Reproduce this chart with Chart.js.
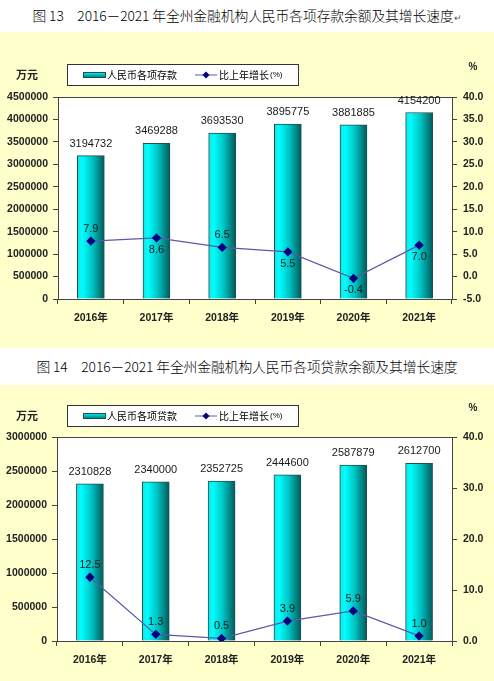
<!DOCTYPE html>
<html>
<head>
<meta charset="utf-8">
<script src="https://cdn.jsdelivr.net/npm/chart.js@4.4.1/dist/chart.umd.min.js"></script>
<style>
html, body { margin: 0; padding: 0; background: #fff; width: 494px; height: 681px; overflow: hidden; }
.title { position: absolute; left: 0; width: 494px; text-align: center; font: 300 13.8px 'Noto Sans CJK SC', sans-serif; color: #000; line-height: 20px; white-space: nowrap; letter-spacing: -0.1px; }
.title .mark { font-size: 9px; color: #555; }
.panel { position: absolute; left: 0; width: 494px; background: #ffffcc; }
canvas { display: block; }
</style>
</head>
<body>
<div class="title" style="top:5px">图 13　2016－2021 年全州金融机构人民币各项存款余额及其增长速度<span class="mark">↵</span></div>
<div class="panel" style="top:32px;height:316px"><canvas id="c13" width="494" height="316"></canvas></div>
<div class="title" style="top:356px">图 14　2016－2021 年全州金融机构人民币各项贷款余额及其增长速度</div>
<div class="panel" style="top:385px;height:296px"><canvas id="c14" width="494" height="296"></canvas></div>

<script>
var years = ['2016年', '2017年', '2018年', '2019年', '2020年', '2021年'];
var deposits = [3194732, 3469288, 3693530, 3895775, 3881885, 4154200];
var depositGrowth = [7.9, 8.6, 6.5, 5.5, -0.4, 7.0];
var loans = [2310828, 2340000, 2352725, 2444600, 2587879, 2612700];
var loanGrowth = [12.5, 1.3, 0.5, 3.9, 5.9, 1.0];

// which side of the point each growth label sits on
var depositLabelSide = ['up', 'down', 'up', 'down', 'down', 'down'];
var loanLabelSide = ['up', 'up', 'up', 'up', 'up', 'up'];

var FONT = "'Liberation Sans', Arial, 'Noto Sans CJK SC', sans-serif";
var CJK = "'Noto Sans CJK SC', sans-serif";
var BAR_W = 27;

function barFill(c) {
    var chart = c.chart, x = chart.scales.x;
    if (!chart.chartArea || !x) return '#00cccc';
    var cx = x.getPixelForValue(c.dataIndex);
    var g = chart.ctx.createLinearGradient(cx - BAR_W / 2, 0, cx + BAR_W / 2, 0);
    g.addColorStop(0, '#19e0e0');
    g.addColorStop(0.18, '#00ffff');
    g.addColorStop(0.55, '#00c4c4');
    g.addColorStop(1, '#005a5a');
    return g;
}

function drawLegend(ctx, o) {
    var x0 = 67, y0 = o.legendY, w = 231, h = 21;
    var cy = y0 + h / 2 + 0.5;
    ctx.save();
    ctx.fillStyle = '#fff';
    ctx.fillRect(x0, y0, w, h);
    ctx.strokeStyle = '#333';
    ctx.lineWidth = 1;
    ctx.strokeRect(x0 + 0.5, y0 + 0.5, w, h);

    var g = ctx.createLinearGradient(0, cy - 3, 0, cy + 3);
    g.addColorStop(0, '#00ffff');
    g.addColorStop(1, '#007070');
    ctx.fillStyle = g;
    ctx.fillRect(83, cy - 3, 23, 6);
    ctx.strokeStyle = '#1f4f4f';
    ctx.strokeRect(83.5, cy - 2.5, 22, 5);

    ctx.fillStyle = '#000';
    ctx.textBaseline = 'middle';
    ctx.textAlign = 'left';
    ctx.font = '10px ' + CJK;
    ctx.fillText(o.barName, 107, cy);

    ctx.strokeStyle = '#5a5aaa';
    ctx.beginPath();
    ctx.moveTo(195, cy);
    ctx.lineTo(217, cy);
    ctx.stroke();
    ctx.fillStyle = '#000080';
    ctx.beginPath();
    ctx.moveTo(206, cy - 3.5);
    ctx.lineTo(209.5, cy);
    ctx.lineTo(206, cy + 3.5);
    ctx.lineTo(202.5, cy);
    ctx.closePath();
    ctx.fill();

    ctx.fillStyle = '#000';
    ctx.font = '10px ' + CJK;
    ctx.fillText('比上年增长', 219, cy);
    var tw = ctx.measureText('比上年增长').width;
    ctx.font = '8px ' + FONT;
    ctx.fillText('(%)', 219 + tw + 1, cy);
    ctx.restore();
}

var labelsPlugin = {
    id: 'labels',
    beforeDatasetsDraw: function (chart) {
        var a = chart.chartArea, ctx = chart.ctx;
        ctx.save();
        ctx.fillStyle = '#fff';
        ctx.fillRect(a.left, a.top, a.right - a.left, a.bottom - a.top);
        ctx.strokeStyle = '#444';
        ctx.lineWidth = 1;
        ctx.strokeRect(Math.round(a.left) + 0.5, Math.round(a.top) + 0.5, Math.round(a.right - a.left), Math.round(a.bottom - a.top));
        ctx.restore();
    },
    afterDatasetsDraw: function (chart, args, o) {
        var ctx = chart.ctx;
        ctx.save();
        ctx.font = '11px ' + FONT;
        ctx.fillStyle = '#1a1a1a';
        ctx.textAlign = 'center';
        ctx.textBaseline = 'middle';
        // bar values
        var bars = chart.getDatasetMeta(1);
        bars.data.forEach(function (el, i) {
            ctx.fillText(String(chart.data.datasets[1].data[i]), el.x, el.y - 12);
        });
        // growth values
        var pts = chart.getDatasetMeta(0);
        pts.data.forEach(function (el, i) {
            var v = chart.data.datasets[0].data[i];
            var dy = o.sides[i] == 'up' ? -12 : 12;
            ctx.fillText(v.toFixed(1), el.x, el.y + dy);
        });
        ctx.restore();
    },
    afterDraw: function (chart, args, o) {
        var ctx = chart.ctx;
        drawLegend(ctx, o);
        ctx.save();
        ctx.fillStyle = '#222';
        ctx.textAlign = 'center';
        ctx.textBaseline = 'middle';
        ctx.font = 'bold 11px ' + CJK;
        ctx.fillText('万元', 27, o.unitY);
        ctx.font = 'bold 10px ' + FONT;
        ctx.fillText('%', 473, o.unitY - 8);
        ctx.restore();
    }
};

function makeChart(id, bars, growth, o) {
    var tickFont = { family: FONT, size: 10.5, weight: 'bold' };
    return new Chart(document.getElementById(id), {
        type: 'bar',
        data: {
            labels: years,
            datasets: [{
                type: 'line',
                label: '比上年增长(%)',
                data: growth,
                yAxisID: 'y1',
                order: 0,
                borderColor: '#5a5aaa',
                borderWidth: 1.2,
                pointStyle: 'rectRot',
                pointRadius: 3.8,
                pointBackgroundColor: '#000080',
                pointBorderColor: '#000080',
                tension: 0
            }, {
                type: 'bar',
                label: o.barName,
                data: bars,
                yAxisID: 'y',
                order: 1,
                backgroundColor: barFill,
                borderColor: '#1f4f4f',
                borderWidth: 1,
                barThickness: BAR_W
            }]
        },
        options: {
            responsive: false,
            animation: false,
            devicePixelRatio: 1,
            layout: { padding: { top: o.top, left: 0, right: 0, bottom: 0 } },
            plugins: { legend: { display: false }, tooltip: { enabled: false }, labels: o },
            scales: {
                x: {
                    grid: { offset: true, drawOnChartArea: false, tickLength: 5, color: '#444' },
                    border: { color: '#444' },
                    ticks: { font: tickFont, color: '#222', padding: o.xPad, maxRotation: 0 },
                    afterFit: function (s) { s.height = o.xh; }
                },
                y: {
                    position: 'left',
                    min: 0, max: o.leftMax,
                    grid: { drawOnChartArea: false, tickLength: 5, color: '#444' },
                    border: { color: '#444' },
                    ticks: { stepSize: 500000, font: tickFont, color: '#222', padding: 5,
                        callback: function (v) { return String(v); } },
                    afterFit: function (s) { s.width = o.leftW; }
                },
                y1: {
                    position: 'right',
                    min: o.rMin, max: o.rMax,
                    grid: { drawOnChartArea: false, tickLength: 5, color: '#444' },
                    border: { color: '#444' },
                    ticks: { stepSize: o.rStep, font: tickFont, color: '#222', padding: 6,
                        callback: function (v) { return v.toFixed(1); } },
                    afterFit: function (s) { s.width = 42; }
                }
            }
        },
        plugins: [labelsPlugin]
    });
}

makeChart('c13', deposits, depositGrowth, {
    barName: '人民币各项存款', sides: depositLabelSide,
    top: 65, xh: 49, xPad: 8, leftW: 58, leftMax: 4500000,
    rMin: -5, rMax: 40, rStep: 5, legendY: 32, unitY: 43
});
makeChart('c14', loans, loanGrowth, {
    barName: '人民币各项贷款', sides: loanLabelSide,
    top: 52, xh: 40, xPad: 8, leftW: 57, leftMax: 3000000,
    rMin: 0, rMax: 40, rStep: 10, legendY: 20, unitY: 31
});
</script>
</body>
</html>
